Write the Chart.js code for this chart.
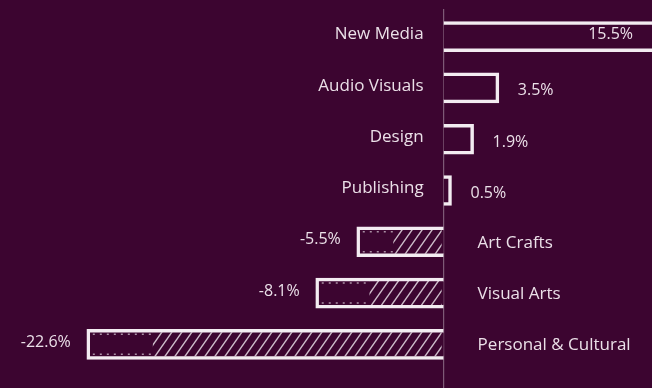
<!DOCTYPE html>
<html>
<head>
<meta charset="utf-8">
<script src="https://cdn.jsdelivr.net/npm/chart.js@4"></script>
<style>
  html, body { margin: 0; padding: 0; background: #3c0530; }
  #wrap { width: 652px; height: 388px; position: relative; }
</style>
</head>
<body>
<div id="wrap">
    <canvas id="sector-growth"></canvas>
</div>

<script>
// data
const sectors = ['New Media', 'Audio Visuals', 'Design', 'Publishing', 'Art Crafts', 'Visual Arts', 'Personal & Cultural'];
const growth = [15.5, 3.5, 1.9, 0.5, -5.5, -8.1, -22.6];
const growthLabels = ['15.5%', '3.5%', '1.9%', '0.5%', '-5.5%', '-8.1%', '-22.6%'];

const bg = '#3c0530';
const ink = '#f3ecf1';
const textColor = '#ebe0e8';
const font = '"Open Sans", "Liberation Sans", Arial, sans-serif';

// zero line, hatching and all the text
const sketchPlugin = {
    id: 'sketch',
    beforeDatasetsDraw(chart) {
        const ctx = chart.ctx;
        const x0 = chart.scales.x.getPixelForValue(0);
        ctx.save();
        ctx.strokeStyle = 'rgba(255,255,255,0.35)';
        ctx.lineWidth = 1.2;
        ctx.beginPath();
        ctx.moveTo(x0, chart.chartArea.top - 2);
        ctx.lineTo(x0, chart.height);
        ctx.stroke();
        ctx.restore();
    },
    afterDatasetsDraw(chart) {
        const ctx = chart.ctx;
        const xScale = chart.scales.x;
        const x0 = xScale.getPixelForValue(0);
        const meta = chart.getDatasetMeta(0);

        meta.data.forEach((bar, i) => {
            const v = growth[i];
            const top = bar.y - bar.height / 2;
            const bottom = bar.y + bar.height / 2;

            // hatching on the negative bars, nearer the zero end
            if (v < 0) {
                const left = bar.x;
                const hStart = left + Math.min(66, (x0 - left) * 0.42);
                ctx.save();
                ctx.beginPath();
                ctx.rect(hStart, top + 3, x0 - hStart - 2, bottom - top - 6);
                ctx.clip();
                ctx.strokeStyle = 'rgba(243,236,241,0.8)';
                ctx.lineWidth = 1.4;
                const h = bottom - top;
                for (let x = hStart - h; x < x0 + h; x += 10) {
                    ctx.beginPath();
                    ctx.moveTo(x, bottom);
                    ctx.lineTo(x + h * 0.7, top);
                    ctx.stroke();
                }
                ctx.restore();

                // rough ticks on the plain part
                ctx.save();
                ctx.strokeStyle = 'rgba(243,236,241,0.6)';
                ctx.lineWidth = 1.5;
                ctx.setLineDash([2, 5]);
                ctx.beginPath();
                ctx.moveTo(left + 6, top + 5);
                ctx.lineTo(hStart, top + 5);
                ctx.moveTo(left + 6, bottom - 5);
                ctx.lineTo(hStart, bottom - 5);
                ctx.stroke();
                ctx.restore();
            }

            ctx.save();
            ctx.fillStyle = textColor;
            ctx.font = '17px ' + font;
            ctx.textBaseline = 'middle';

            // category names sit on the other side of the zero line
            if (v >= 0) {
                ctx.textAlign = 'right';
                ctx.fillText(sectors[i], x0 - 20, bar.y - 2);
            } else {
                ctx.textAlign = 'left';
                ctx.fillText(sectors[i], x0 + 34, bar.y + 1);
            }

            // value labels
            ctx.font = '16px ' + font;
            if (v >= 0) {
                const w = ctx.measureText(growthLabels[i]).width;
                let lx = bar.x + 19;
                if (lx + w > chart.chartArea.right - 10) {
                    ctx.textAlign = 'right';
                    lx = chart.chartArea.right - 19;
                    ctx.fillText(growthLabels[i], lx, bar.y - 2);
                } else {
                    ctx.textAlign = 'left';
                    ctx.fillText(growthLabels[i], lx, bar.y + 3);
                }
            } else {
                ctx.textAlign = 'right';
                ctx.fillText(growthLabels[i], bar.x - 16, bar.y - 2);
            }
            ctx.restore();
        });
    }
};

const ctx = document.getElementById('sector-growth').getContext('2d');
const sectorChart = new Chart(ctx, {
    type: 'bar',
    data: {
        labels: sectors,
        datasets: [{
            data: growth,
            backgroundColor: bg,
            borderColor: ink,
            borderWidth: 3.5,
            borderSkipped: 'start',
            barThickness: 30
        }]
    },
    options: {
        indexAxis: 'y',
        responsive: true,
        maintainAspectRatio: false,
        animation: false,
        layout: { padding: { top: 11, bottom: 18, left: 0, right: 0 } },
        scales: {
            x: { display: false, min: -28.1, max: 13.2 },
            y: { display: false, offset: true }
        },
        plugins: {
            legend: { display: false },
            tooltip: { enabled: false }
        }
    },
    plugins: [sketchPlugin]
});
</script>
</body>
</html>
